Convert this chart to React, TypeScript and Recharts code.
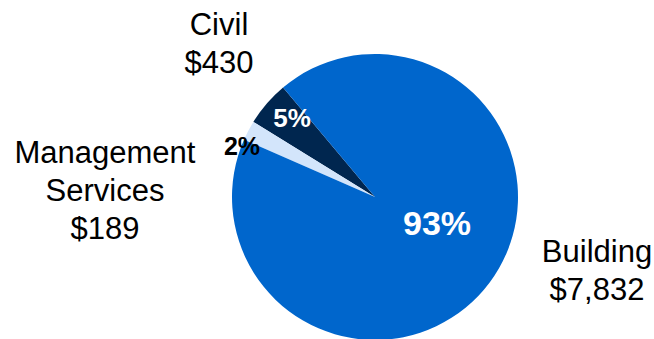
import React from "react";
import { PieChart, Pie, Cell } from "recharts";

const categories = ["Civil", "Management Services", "Building"];
const nameLines = [["Civil", "$430"], ["Management", "Services", "$189"], ["Building", "$7,832"]];
const values = [430, 189, 7832];
const percentLabels = ["5%", "2%", "93%"];

const colors = ["#00264F", "#D3E5FB", "#0066CC"];
const pctColors = ["#FFFFFF", "#000000", "#FFFFFF"];
const pctSizes = [26, 25, 34];
// label offsets relative to pie centre (style/layout only)
const pctOffsets = [[-83, -70], [-133, -42], [62, 38]];
const nameOffsets = [[-156, -162], [-270, -34], [222, 65]];
const lineGap = 38;

const data = categories.map((c, i) => ({ name: c, value: values[i] }));

const renderLabel = (props: any) => {
  const { cx, cy, index } = props;
  const [px, py] = pctOffsets[index];
  const [nx, ny] = nameOffsets[index];
  return (
    <g>
      <text
        x={cx + px}
        y={cy + py}
        textAnchor="middle"
        fill={pctColors[index]}
        fontSize={pctSizes[index]}
        fontWeight="bold"
        fontFamily="Liberation Sans, Arial, sans-serif"
      >
        {percentLabels[index]}
      </text>
      {nameLines[index].map((line, j) => (
        <text
          key={j}
          x={cx + nx}
          y={cy + ny + j * lineGap}
          textAnchor="middle"
          fill="#000"
          fontSize={31}
          fontFamily="Liberation Sans, Arial, sans-serif"
        >
          {line}
        </text>
      ))}
    </g>
  );
};

export default function App() {
  return (
    <div style={{ position: "absolute", left: 0, top: 0, width: 654, height: 339, background: "#fff" }}>
      <PieChart width={654} height={339} margin={{ top: 0, right: 0, bottom: 0, left: 0 }}>
        <Pie
          data={data}
          dataKey="value"
          nameKey="name"
          cx={375}
          cy={197}
          outerRadius={143}
          startAngle={130}
          endAngle={490}
          stroke="none"
          label={renderLabel}
          labelLine={false}
          isAnimationActive={false}
        >
          {data.map((d, i) => (
            <Cell key={d.name} fill={colors[i]} />
          ))}
        </Pie>
      </PieChart>
    </div>
  );
}
